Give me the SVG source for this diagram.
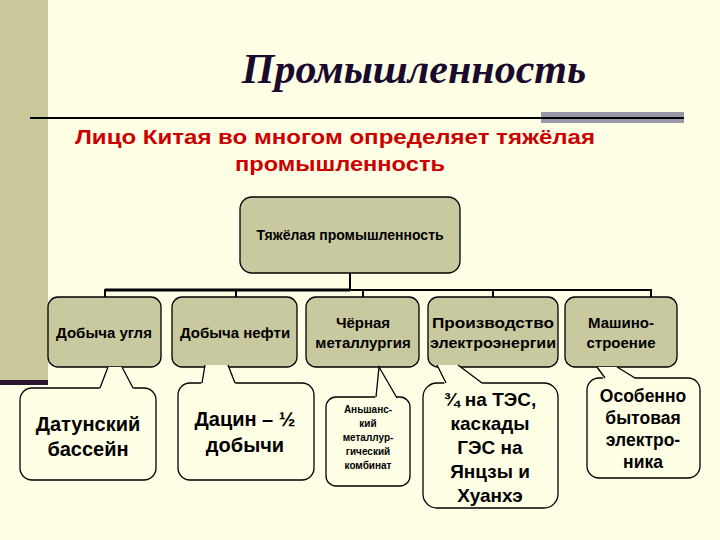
<svg xmlns="http://www.w3.org/2000/svg" width="720" height="540" viewBox="0 0 720 540">
<style>
.n{fill:#C9C9A0;stroke:#000;stroke-width:1.3}
.c{fill:#FFFFE6;stroke:#000;stroke-width:1.3}
.p{fill:#FFFFE6;stroke:none}
.pl{fill:none;stroke:#000;stroke-width:1.3}
text{font-family:"Liberation Sans",Arial,sans-serif;font-weight:bold;text-anchor:middle;fill:#000}
.t{font-size:15px}
.w{font-size:19px}
.k{stroke:#000;stroke-width:2;fill:none}
</style>
<rect width="720" height="540" fill="#FFFFE6"/>
<rect x="0" y="0" width="48" height="380" fill="#C8C89A"/>
<rect x="0" y="380" width="48" height="5" fill="#2B1533"/>
<rect x="541" y="112" width="143" height="11" fill="#9A98A8"/>
<line x1="30" y1="118" x2="684" y2="118" stroke="#000" stroke-width="2"/>
<text x="414" y="83" style="font-family:'Liberation Serif',serif;font-style:italic;font-size:42px;fill:#1A0A2E">Промышленность</text>
<text x="335" y="144" textLength="520" lengthAdjust="spacingAndGlyphs" style="font-size:20px;fill:#CC0000">Лицо Китая во многом определяет тяжёлая</text>
<text x="340" y="171" textLength="210" lengthAdjust="spacingAndGlyphs" style="font-size:20px;fill:#CC0000">промышленность</text>
<g id="connectors">
<path class="k" d="M350 273V290M105 290H651M105 289V297M236 289V297M363 289V297M493 289V297M651 289V297"/>
<path d="M105 290H350" stroke="#000" stroke-width="3"/>
</g>
<g id="top"><rect class="n" x="240" y="197" width="220" height="76" rx="12"/><text x="350" y="240" style="font-size:14px">Тяжёлая промышленность</text></g>
<g id="n1"><rect class="n" x="48" y="297" width="113" height="70" rx="10"/><text class="t" x="104" y="338">Добыча угля</text></g>
<g id="n2"><rect class="n" x="172" y="297" width="125" height="70" rx="10"/><text class="t" x="235" y="338">Добыча нефти</text></g>
<g id="n3"><rect class="n" x="306" y="297" width="113" height="70" rx="10"/><text class="t" x="363" y="328">Чёрная</text><text class="t" x="363" y="348">металлургия</text></g>
<g id="n4"><rect class="n" x="428" y="297" width="130" height="70" rx="10"/><text class="t" x="493" y="328" textLength="122" lengthAdjust="spacingAndGlyphs">Производство</text><text class="t" x="493" y="348" textLength="126" lengthAdjust="spacingAndGlyphs">электроэнергии</text></g>
<g id="n5"><rect class="n" x="565" y="297" width="112" height="70" rx="10"/><text class="t" x="621" y="328">Машино-</text><text class="t" x="621" y="348">строение</text></g>
<g id="c1"><rect class="c" x="20" y="388" width="136" height="92" rx="12"/><polygon class="p" points="99,390 108,367 122,367 134,390"/><path class="pl" d="M100 388L108 367M122 367L133 388"/><text x="88" y="431" style="font-size:20px">Датунский</text><text x="88" y="456" style="font-size:20px">бассейн</text></g>
<g id="c2"><rect class="c" x="178" y="383" width="136" height="97" rx="12"/><polygon class="p" points="201,385 205,365 228,365 236,385"/><path class="pl" d="M202 383L205 365M228 365L235 383"/><text x="245" y="426" style="font-size:20px">Дацин – ½</text><text x="245" y="452" style="font-size:20px">добычи</text></g>
<g id="c3"><rect class="c" x="326" y="397" width="84" height="89" rx="10"/><polygon class="p" points="375,399 379,367 398,399"/><path class="pl" d="M376 397L379 367L397 398"/><g style="font-size:10px"><text x="368" y="413">Аньшанс-</text><text x="368" y="427">кий</text><text x="368" y="441">металлур-</text><text x="368" y="455">гический</text><text x="368" y="469">комбинат</text></g></g>
<g id="c4"><rect class="c" x="423" y="383" width="135" height="125" rx="14"/><polygon class="p" points="445,385 437,365 458,365 484,385"/><path class="pl" d="M446 383L437 365M458 365L482 383"/><text class="w" x="490" y="406">¾ на ТЭС,</text><text class="w" x="490" y="430">каскады</text><text class="w" x="490" y="454">ГЭС на</text><text class="w" x="490" y="478">Янцзы и</text><text class="w" x="490" y="502">Хуанхэ</text></g>
<g id="c5"><rect class="c" x="587" y="378" width="113" height="100" rx="12"/><polygon class="p" points="604,380 597,367 617,367 637,380"/><path class="pl" d="M605 378L597 367M617 367L635 378"/><g style="font-size:17.5px"><text x="643" y="402">Особенно</text><text x="643" y="424">бытовая</text><text x="643" y="446">электро-</text><text x="643" y="468">ника</text></g></g>
</svg>
